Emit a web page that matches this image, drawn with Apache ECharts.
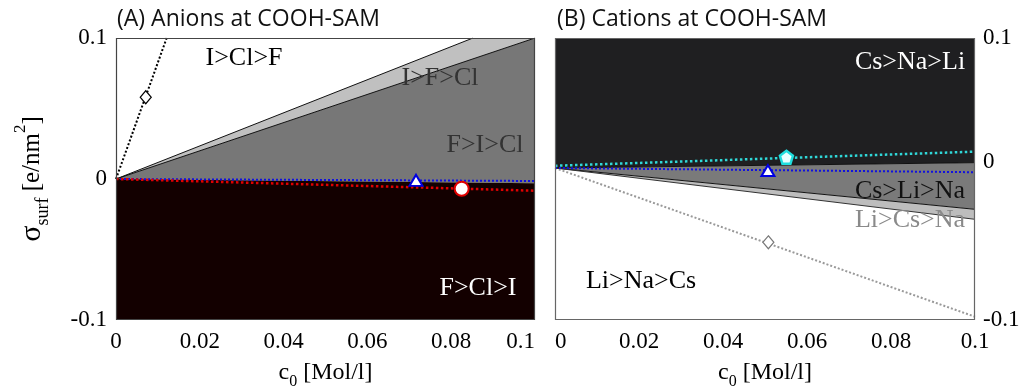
<!DOCTYPE html>
<html>
<head>
<meta charset="utf-8">
<script src="https://cdn.jsdelivr.net/npm/echarts@6/dist/echarts.min.js"></script>
<style>
  html, body { margin: 0; padding: 0; background: #fff; }
  #chart { width: 1024px; height: 392px; }
</style>
</head>
<body>
<div id="chart"></div>
<script>
// ---- axis ticks ----
const concTicks = [0, 0.02, 0.04, 0.06, 0.08, 0.1];
const sigmaTicks = [-0.1, 0, 0.1];

// ---- (A) anions: boundaries between ordering regions (c0, sigma) ----
const anionOrigin = [0, 0];
const anionUpperEnd = [0.0852, 0.1];   // I>Cl>F | I>F>Cl
const anionMidEnd = [0.1, 0.1];        // I>F>Cl | F>I>Cl
const anionLowerEnd = [0.1, -0.003];   // F>I>Cl | F>Cl>I

// ---- (A) anions: dotted crossover lines and their markers ----
const anionDiamondLine = [[0, 0], [0.0121, 0.1]];
const anionDiamondPoint = [[0.0071, 0.058]];
const anionTriangleLine = [[0, 0], [0.1, -0.0014]];
const anionTrianglePoint = [[0.0716, -0.001]];
const anionCircleLine = [[0, 0], [0.1, -0.0083]];
const anionCirclePoint = [[0.0825, -0.0069]];

// ---- (B) cations: boundaries between ordering regions ----
const cationOrigin = [0, 0.0078];
const cationUpperEnd = [0.1, 0.0116];  // Cs>Na>Li | Cs>Li>Na
const cationMidEnd = [0.1, -0.0215];   // Cs>Li>Na | Li>Cs>Na
const cationLowerEnd = [0.1, -0.0286]; // Li>Cs>Na | Li>Na>Cs

// ---- (B) cations: dotted crossover lines and their markers ----
const cationDiamondLine = [[0, 0.0078], [0.1, -0.0977]];
const cationDiamondPoint = [[0.0508, -0.0449]];
const cationTriangleLine = [[0, 0.0078], [0.1, 0.0048]];
const cationTrianglePoint = [[0.0507, 0.006]];
const cationPentagonLine = [[0, 0.0094], [0.1, 0.0194]];
const cationPentagonPoint = [[0.0551, 0.0154]];

// ---- region labels ----
const anionRegionNames = ['I>Cl>F', 'I>F>Cl', 'F>I>Cl', 'F>Cl>I'];
const cationRegionNames = ['Cs>Na>Li', 'Cs>Li>Na', 'Li>Cs>Na', 'Li>Na>Cs'];

const SERIF = '"Liberation Serif", "DejaVu Serif", serif';
const SANS = '"Open Sans", "Noto Sans", sans-serif';

// polygons (fill colour, vertices) per panel
const anionRegions = [
  { fill: '#c0c0c0', pts: [anionOrigin, anionUpperEnd, anionMidEnd] },
  { fill: '#777777', pts: [anionOrigin, anionMidEnd, anionLowerEnd] },
  { fill: '#130000', pts: [anionOrigin, anionLowerEnd, [0.1, -0.1], [0, -0.1]] }
];
const cationRegions = [
  { fill: '#1f1f21', pts: [cationOrigin, [0, 0.1], [0.1, 0.1], cationUpperEnd] },
  { fill: '#7a7a7a', pts: [cationOrigin, cationUpperEnd, cationMidEnd] },
  { fill: '#bdbdbd', pts: [cationOrigin, cationMidEnd, cationLowerEnd] }
];

function regionSeries(idx, regions) {
  return {
    type: 'custom', xAxisIndex: idx, yAxisIndex: idx, z: 1, silent: true,
    data: regions.map((r, i) => [i]),
    renderItem: (params, api) => {
      const r = regions[params.dataIndex];
      return {
        type: 'polygon',
        shape: { points: r.pts.map(p => api.coord(p)) },
        style: { fill: r.fill, stroke: null }
      };
    }
  };
}

function boundarySeries(idx, data, color) {
  return {
    type: 'line', xAxisIndex: idx, yAxisIndex: idx, z: 3, silent: true,
    data: data, symbol: 'none',
    lineStyle: { color: color, width: 1 }
  };
}

function dottedSeries(idx, data, color, width) {
  return {
    type: 'line', xAxisIndex: idx, yAxisIndex: idx, z: 4, silent: true,
    data: data, symbol: 'none',
    lineStyle: { color: color, width: width, type: [width, width] }
  };
}

function markerSeries(idx, data, symbol, size, fill, stroke, bw) {
  return {
    type: 'scatter', xAxisIndex: idx, yAxisIndex: idx, z: 6, silent: true,
    data: data, symbol: symbol, symbolSize: size,
    itemStyle: { color: fill, borderColor: stroke, borderWidth: bw, opacity: 1 }
  };
}

function frameSeries(idx, color) {
  return {
    type: 'custom', xAxisIndex: idx, yAxisIndex: idx, z: 10, silent: true,
    data: [[0]],
    renderItem: (params) => {
      const c = params.coordSys;
      return {
        type: 'rect',
        shape: { x: c.x + 0.5, y: c.y + 0.5, width: c.width - 1, height: c.height - 1 },
        style: { fill: null, stroke: color, lineWidth: 1.2 }
      };
    }
  };
}

const fmtTick = v => (Math.abs(v) < 1e-9 ? '0' : String(+v.toFixed(2)));

function xAxisDef(idx, labelAlign) {
  return {
    type: 'value', gridIndex: idx, min: 0, max: 0.1, interval: 0.02,
    axisLine: { show: false }, axisTick: { show: false }, splitLine: { show: false },
    axisLabel: Object.assign({
      fontFamily: SERIF, fontSize: 23, color: '#000', margin: 10,
      formatter: fmtTick
    }, labelAlign),
    name: '{m|c}{s|0}{m| [Mol/l]}',
    nameLocation: 'middle', nameGap: 36,
    nameTextStyle: {
      rich: {
        m: { fontFamily: SERIF, fontSize: 24, color: '#000', lineHeight: 34 },
        s: { fontFamily: SERIF, fontSize: 16, color: '#000', lineHeight: 16, verticalAlign: 'bottom' }
      }
    }
  };
}

const option = {
  animation: false,
  backgroundColor: '#fff',
  title: [
    { text: '(A) Anions at COOH-SAM', left: 117, top: 8, padding: 0,
      textStyle: { fontFamily: SANS, fontSize: 23, fontWeight: 'normal', color: '#111' } },
    { text: '(B) Cations at COOH-SAM', left: 557, top: 8, padding: 0,
      textStyle: { fontFamily: SANS, fontSize: 23, fontWeight: 'normal', color: '#111' } }
  ],
  grid: [
    { left: 116, right: 489, top: 38, bottom: 72, outerBoundsMode: 'none', containLabel: false },
    { left: 555, right: 49, top: 38, bottom: 72, outerBoundsMode: 'none', containLabel: false }
  ],
  xAxis: [xAxisDef(0, { alignMaxLabel: 'right' }), xAxisDef(1, { alignMinLabel: 'left' })],
  yAxis: [
    {
      type: 'value', gridIndex: 0, min: -0.1, max: 0.1, interval: 0.1,
      axisLine: { show: false }, axisTick: { show: false }, splitLine: { show: false },
      axisLabel: { fontFamily: SERIF, fontSize: 23, color: '#000', margin: 9, formatter: fmtTick },
      name: '{g|σ}{s|surf}{m| [e/nm}{p|2}{m|]}',
      nameLocation: 'middle', nameRotate: 90, nameGap: 64,
      nameTextStyle: {
        rich: {
          g: { fontFamily: SERIF, fontSize: 30, color: '#000', lineHeight: 40 },
          m: { fontFamily: SERIF, fontSize: 25, color: '#000', lineHeight: 40 },
          s: { fontFamily: SERIF, fontSize: 18, color: '#000', lineHeight: 18, verticalAlign: 'bottom' },
          p: { fontFamily: SERIF, fontSize: 17, color: '#000', lineHeight: 17, verticalAlign: 'top' }
        }
      }
    },
    {
      type: 'value', gridIndex: 1, min: -0.1, max: 0.1, interval: 0.1, position: 'right',
      axisLine: { show: false }, axisTick: { show: false }, splitLine: { show: false },
      axisLabel: {
        fontFamily: SERIF, fontSize: 23, color: '#000', margin: 8,
        formatter: v => (Math.abs(v) < 1e-9 ? '{z|0}' : fmtTick(v)),
        rich: { z: { fontFamily: SERIF, fontSize: 23, color: '#000', padding: [0, 0, 34, 0] } }
      }
    }
  ],
  graphic: [
    ...[[anionRegionNames[0], 244, 58, '#000'], [anionRegionNames[1], 440, 78, '#333'],
        [anionRegionNames[2], 485, 145, '#333'], [anionRegionNames[3], 478, 288, '#fff'],
        [cationRegionNames[0], 910, 62, '#fff'], [cationRegionNames[1], 910, 191, '#111'],
        [cationRegionNames[2], 910, 220, '#8a8a8a'], [cationRegionNames[3], 641, 281, '#000']]
      .map(([t, x, y, c]) => ({
        type: 'text', x: x, y: y, z: 100, silent: true,
        style: { text: t, fill: c, font: '26px ' + SERIF, align: 'center', verticalAlign: 'middle',
                 textAlign: 'center', textVerticalAlign: 'middle' }
      }))
  ],
  series: [
    regionSeries(0, anionRegions),
    boundarySeries(0, [anionOrigin, anionUpperEnd], '#111'),
    boundarySeries(0, [anionOrigin, anionMidEnd], '#111'),
    dottedSeries(0, anionDiamondLine, '#000', 2),
    dottedSeries(0, anionTriangleLine, '#1010e0', 2),
    dottedSeries(0, anionCircleLine, '#e00000', 2.5),
    markerSeries(0, anionDiamondPoint, 'diamond', [11, 13], '#fff', '#000', 1.2),
    markerSeries(0, anionTrianglePoint, 'triangle', [13, 11], '#fff', '#0000e0', 2),
    markerSeries(0, anionCirclePoint, 'circle', 14, '#fff', '#e00000', 2),
    frameSeries(0, '#444'),

    regionSeries(1, cationRegions),
    boundarySeries(1, [cationOrigin, cationUpperEnd], '#111'),
    boundarySeries(1, [cationOrigin, cationMidEnd], '#111'),
    boundarySeries(1, [cationOrigin, cationLowerEnd], '#333'),
    dottedSeries(1, cationDiamondLine, '#999', 2),
    dottedSeries(1, cationTriangleLine, '#1010e0', 2),
    dottedSeries(1, cationPentagonLine, '#30d8d8', 2.5),
    markerSeries(1, cationDiamondPoint, 'diamond', [11, 13], '#fff', '#777', 1.2),
    markerSeries(1, cationTrianglePoint, 'triangle', [13, 11], '#fff', '#0000e0', 2),
    markerSeries(1, cationPentagonPoint,
      'path://M0,-10 L9.51,-3.09 L5.88,8.09 L-5.88,8.09 L-9.51,-3.09 Z', 13, '#e8ffff', '#20dede', 2.5),
    frameSeries(1, '#666')
  ]
};

const chart = echarts.init(document.getElementById('chart'), null, { renderer: 'canvas' });
chart.setOption(option);
</script>
</body>
</html>
